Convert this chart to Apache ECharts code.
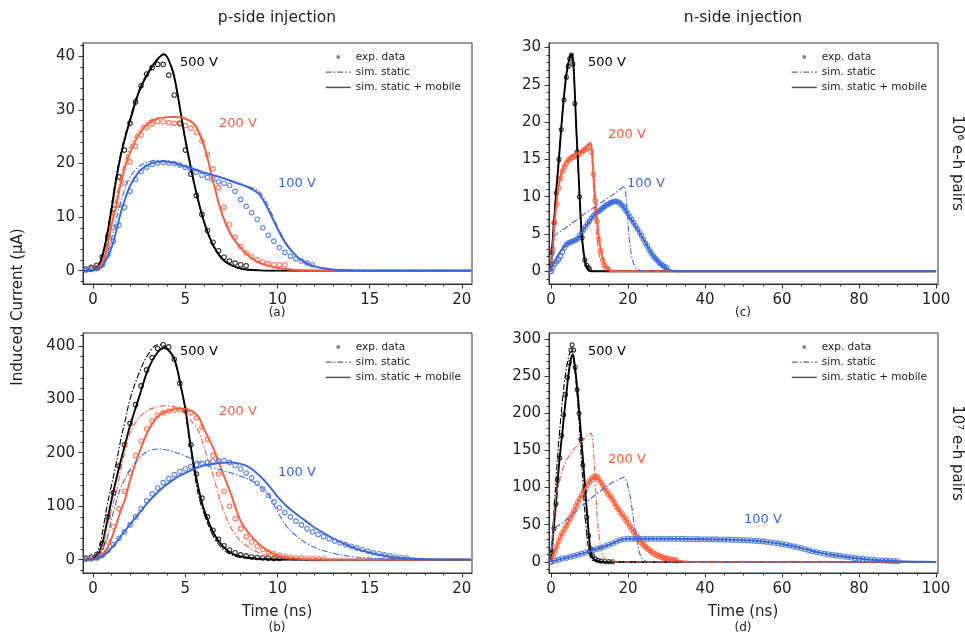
<!DOCTYPE html>
<html>
<head>
<meta charset="utf-8">
<script src="https://cdn.jsdelivr.net/npm/echarts@6/dist/echarts.min.js"></script>
<style>
  html, body { margin: 0; padding: 0; background: #fff; }
  #chart { width: 965px; height: 633px; }
</style>
</head>
<body>
<div id="chart"></div>
<script>
// tick labels
var tickTimeP = [0, 5, 10, 15, 20];
var tickTimeN = [0, 20, 40, 60, 80, 100];
var tickCurA = [0, 10, 20, 30, 40];
var tickCurB = [0, 100, 200, 300, 400];
var tickCurC = [0, 5, 10, 15, 20, 25, 30];
var tickCurD = [0, 50, 100, 150, 200, 250, 300];

// ---- (a) p-side, 10^6 e-h pairs ----
var tA = [-0.5,0,0.25,0.5,0.75,1,1.25,1.5,1.75,2,2.5,3,3.5,3.85,4.25,4.5,4.75,5,5.5,6,6.5,7,7.5,8,8.5,9,9.5,10,10.5,11,11.5,12,13,14,15,20.5];
var a500Mobile = [0,0.1,0.6,2.7,6.5,11.5,17,21.5,25,28,33.5,37,39.5,40.4,38,34.5,29.5,24.5,16,9.3,4.8,2.2,1,0.4,0.15,0.05,0,0,0,0,0,0,0,0,0,0];
var a500Static = [0,0.1,0.7,3,7,12.2,17.6,22,25.5,28.5,33.8,37.2,39.6,40.3,37.8,34.2,29.2,24.2,15.8,9.2,4.7,2.1,0.9,0.35,0.1,0.03,0,0,0,0,0,0,0,0,0,0];
var a200Mobile = [0,0.1,0.4,1.5,4.2,8.5,12,16.3,19.5,22,25.5,27.5,28.4,28.6,28.7,28.7,28.6,28.4,27.3,23.5,16.8,10.5,6.6,4.3,2.6,1.5,0.9,0.5,0.25,0.12,0.05,0,0,0,0,0];
var a200Static = [0,0.1,0.5,2,5,9.5,13.5,17.5,20.5,23,26.2,27.9,28.5,28.6,28.6,28.6,28.5,28.3,27.1,23.3,16.7,10.4,6.5,4.2,2.5,1.5,0.9,0.5,0.25,0.12,0.05,0,0,0,0,0];
var a100Mobile = [0,0.05,0.2,0.8,2.3,4.3,7.3,10.8,13.5,15.8,18.5,19.8,20.3,20.4,20.2,20,19.7,19.4,18.9,18.3,17.8,17.3,16.7,16.1,15.4,14.3,11.4,7.8,4.8,2.8,1.5,0.8,0.2,0.05,0,0];
var a100Static = [0,0.05,0.3,1,3,6,9.5,12.8,15.5,17.5,19.5,20.3,20.6,20.5,20.3,20.1,19.8,19.5,19,18.4,17.9,17.4,16.8,16.2,15.6,14.8,12,8.2,5,2.9,1.6,0.8,0.2,0.05,0,0];

// measured points, p-side (shared time base for a and b)
var expTab = [-0.4,-0.1,0.2,0.5,0.8,1.1,1.4,1.7,2,2.3,2.6,2.9,3.2,3.5,3.8,4.1,4.4,4.7,5,5.3,5.6,5.9,6.2,6.5,6.8,7.1,7.4,7.7,8,8.3,8.6,8.9,9.2,9.5,9.8,10.1,10.4,10.7,11,11.3,11.6,11.9,12.2,12.5,12.8,13.1,13.4,13.7,14,14.3,14.6,14.9,15.2,15.5,15.8,16.1,16.4,16.7,17];
var a500Exp = [0.3,0.6,1,2.6,6.3,11.5,17.5,22.5,27.5,31.5,34.5,36.7,37.9,38.5,38.5,36.5,32.8,27.5,22.5,18,14,10.5,7.5,5.3,3.7,2.5,1.8,1.4,1.1,0.9];
var a200Exp = [0.2,0.3,0.6,1.8,4.5,8,12.2,16.3,20.3,23.2,25.3,26.7,27.4,27.8,27.8,27.6,27.5,27.4,27.1,26.6,25.8,24.2,21.7,19,15.5,11.8,8.6,6.2,4.5,3.3,2.6,2,1.6,1.3,1.1,1.1,1.1];
var a100Exp = [0.1,0.2,0.4,1.1,3,5.5,8.5,11.8,14.8,17,18.5,19.3,19.8,20.1,20.2,20.1,20,19.7,19.3,18.9,18.4,17.8,17.4,17,16.6,16.3,15.9,14.8,13.3,12,10.8,9.6,8,6.6,5.5,4.3,3.4,2.7,2.2,1.8,1.4,1.1];

// ---- (b) p-side, 10^7 e-h pairs ----
var tB = [-0.5,0,0.25,0.5,0.75,1,1.25,1.5,1.75,2,2.5,3,3.5,3.85,4.25,4.5,4.75,5,5.25,5.5,5.75,6,6.5,7,7.5,8,8.5,9,9.5,10,10.5,11,11.5,12,13,14,15,16,17,18,20.5];
var b500Mobile = [0,2,8,30,70,112,150,185,218,250,305,358,388,396,385,365,325,283,222,170,128,95,52,26,12,6,3,1.5,0.6,0.2,0,0,0,0,0,0,0,0,0,0,0];
var b500Static = [0,3,15,50,100,140,180,225,262,300,350,385,402,400,385,362,325,278,215,160,115,88,45,21,9,4,2,0.8,0.3,0,0,0,0,0,0,0,0,0,0,0,0];
var b200Mobile = [0,1,3,9,20,40,65,92,115,148,200,242,268,276,280,281.5,282,282,279,275,265,245,210,165,120,72,47,29,16,8,4,2,1,0.5,0,0,0,0,0,0,0];
var b200Static = [0,2,8,25,60,95,125,170,205,237,266,280,286,288,287,285,280,272,262,252,238,212,158,98,58,35,22,13,7,4,2,1,0.5,0,0,0,0,0,0,0,0];
var b100Mobile = [0,0.5,2,6,13,22,32,44,55,66,87,108,126,137,147,153,158,162,166,170,173,176,179,181,182,179,172,158,140,118,100,86,73,60,40,24,13,6,2.5,0.8,0];
var b100Static = [0,1,5,18,40,75,108,135,152,168,190,203,207,206,203,200,197,194,190,186,182,178,172,167,162,156,149,139,122,90,62,45,32,23,12,6,3,1.5,0.5,0,0];
var b500Exp = [3,5,10,30,80,125,175,215,255,290,325,355,378,395,402,398,375,330,280,215,160,115,80,55,38,26,18,13,9,7,5,4,3,2.5,2,2];
var b200Exp = [2,3,5,15,33,62,95,128,162,195,222,245,260,270,275,278,280,281,280,275,265,248,225,195,160,128,100,77,58,43,33,25,19,14,11,8,6,4.5,3.5,3,2.5,2,2,2];
var b100Exp = [1,1.5,3,8,17,28,40,52,65,80,95,110,123,134,144,152,159,165,170,174,177,180,182,184,185,185,182,176,170,162,153,143,132,120,108,97,88,80,72,65,58,52,47,43,39,35,31,28,25,22,19,16,13,11,9,7,5,4,3];

// ---- (c) n-side, 10^6 e-h pairs ----
var c500T = [0,0.5,1,1.5,2,2.5,3,3.5,4,4.5,5,5.4,5.8,6.2,6.6,7,7.5,8,8.5,9,9.5,10,11,100];
var c500Mobile = [0,4.5,8,11.5,14.5,18,21.2,24,26.3,27.8,28.8,29.1,28,24,19,15,9.5,5,2.5,1,0.4,0.1,0,0];
var c500Static = [0,4.8,8.3,11.8,14.8,18.2,21.4,24.2,26.5,28,28.9,29.1,27.8,23.6,18.5,14.5,9,4.6,2.2,0.9,0.3,0.1,0,0];
var c500ExpT = [0.3,0.8,1.4,2.1,2.7,3.4,4,4.5,4.9,5.3,5.7,6.2,6.8,7.4,8.1,8.8,9.3,9.7,10];
var c500Exp = [2.5,6.5,10.5,15,19,23,26,27.5,28.5,29,27.8,22.5,16,10,4.5,1.5,0.8,0.5,0.3];
var c200T = [0,0.5,1,1.5,2,3,4,5,6,7,8,9,9.7,10.3,10.7,11.2,11.6,12,12.5,13,13.5,14,14.6,15.5,16,100];
var c200Mobile = [0,3,6.8,9.3,11.5,13.5,14.6,15.2,15.5,15.8,16,16.5,16.9,17.1,15.8,11.8,9.1,6.9,4.2,2.8,1.6,0.8,0.4,0.1,0,0];
var c200Static = [0,3.5,7.2,9.8,11.8,13.7,14.7,15.3,15.6,15.9,16.2,16.7,17.1,17.3,14.5,9.5,6.5,4.3,2.3,1.2,0.6,0.3,0.1,0,0,0];
var c200ExpT = [0,0.5,1,1.5,2,2.5,3,3.5,4,4.5,5,5.5,6,6.5,7,7.5,8,8.5,9,9.5,10,10.5,11,11.5,12,12.5,13,13.5,14,14.5,15];
var c200Exp = [0,3,6.5,9,11.2,12.5,13.4,14,14.5,14.9,15.1,15.3,15.4,15.5,15.6,15.8,16,16.2,16.4,16.6,16.7,16,13,9.5,6.7,4.3,2.7,1.5,0.8,0.4,0.2];
var c100T = [0,0.5,1,2,3,4,5,6,7,8,9,10,11,12,13,14,15,16,17,18,19,20,21,22,23,24,25,26,27,28,29,30,31,32,33,100];
var c100Mobile = [0,0.8,1.4,2.3,3,3.6,3.9,4.1,4.4,5.2,6,6.7,7.4,7.9,8.3,8.7,9,9.3,9.4,9.2,8.5,7.6,6.8,6,5.2,4.3,3.4,2.5,1.8,1.2,0.7,0.35,0.15,0.05,0,0];
var c100StaticT = [0,0.3,0.7,1,3,5,7,9,11,13,15,17,18,19,19.4,19.8,20.2,20.6,21,21.5,22,23,24,25,100];
var c100Static = [0,2.5,4.2,4.8,5.5,6.3,7,7.8,8.5,9.2,9.9,10.6,11,11.4,10.5,8,5.2,3.2,1.9,1,0.5,0.15,0.05,0,0];
var c100ExpT = [0,0.5,1,1.5,2,2.5,3,3.5,4,4.5,5,5.5,6,6.5,7,7.5,8,8.5,9,9.5,10,10.5,11,11.5,12,12.5,13,13.5,14,14.5,15,15.5,16,16.5,17,17.5,18,18.5,19,19.5,20,20.5,21,21.5,22,22.5,23,23.5,24,24.5,25,25.5,26,26.5,27,27.5,28,28.5,29,29.5,30];
var c100Exp = [0,0.5,1,1.3,1.6,2,2.6,3.2,3.6,3.8,3.9,4,4.1,4.2,4.4,4.8,5.2,5.6,6,6.4,6.7,7.1,7.4,7.7,7.9,8.1,8.3,8.5,8.7,8.9,9,9.2,9.3,9.4,9.4,9.3,9.1,8.8,8.5,8.1,7.7,7.3,6.9,6.5,6.1,5.7,5.2,4.8,4.3,3.8,3.4,2.9,2.5,2.1,1.8,1.5,1.2,1,0.8,0.6,0.5];

// ---- (d) n-side, 10^7 e-h pairs ----
var d500T = [0,0.5,1,1.5,2,2.5,3,3.5,4,4.5,5,5.4,5.7,6,6.4,6.8,7.1,7.4,7.7,8,8.4,8.7,9,9.4,9.7,10,10.3,10.8,11.6,12.5,13.3,100];
var d500Mobile = [0,32,62,90,125,152,176,202,226,250,268,277,279,272,255,235,218,198,178,158,132,112,90,64,45,28,15,6,2,0.5,0,0];
var d500Static = [0,45,85,125,160,190,218,242,260,274,282,283,278,268,250,225,205,180,155,130,100,75,55,32,20,11,6,2,0.5,0,0,0];
var d500ExpT = [0.3,0.8,1.3,1.8,2.3,2.8,3.3,3.8,4.3,4.8,5.2,5.5,5.9,6.3,6.8,7.3,7.8,8.3,8.8,9.3,9.8,10.3,10.8,11.5,12.2,13,14,15,16];
var d500Exp = [15,45,78,110,140,170,198,225,248,268,285,292,285,262,232,200,165,130,95,60,35,18,8,4,2,1,0.5,0.3,0.2];
var d200T = [0,1,2,3,4,5,6,7,8,9,10,11,11.5,12,13,14,15,16,17,18,19,20,21,22,23,24,25,26,27,28,29,30,31,32,33,34,35,37,100];
var d200Mobile = [0,14,28,39,49,59,69,80,90,100,108,113.5,115,114,107,99,91,84,74,67,60,52,44,36,30,23,18,14,10.5,8,6,4.5,3.2,2.2,1.4,0.8,0.4,0,0];
var d200StaticT = [0,0.3,0.6,1,1.5,2,3,4,5,6,7,8,9,10,10.4,10.8,11.2,11.6,12,12.5,13,13.5,14,15,16,100];
var d200Static = [0,25,50,72,92,106,124,136,145,152,157,162,167,172,173,165,138,98,62,35,18,9,4,1,0,0];
var d200ExpT = [0,0.5,1,1.5,2,2.5,3,3.5,4,4.5,5,5.5,6,6.5,7,7.5,8,8.5,9,9.5,10,10.5,11,11.5,12,12.5,13,13.5,14,14.5,15,15.5,16,16.5,17,17.5,18,18.5,19,19.5,20,20.5,21,21.5,22,22.5,23,23.5,24,24.5,25,25.5,26,26.5,27,27.5,28,28.5,29,29.5,30,30.5,31,31.5,32,32.5];
var d200Exp = [0,7,14,21,28,34,39,44,49,54,59,64,69,75,80,85,90,95,100,104,108,111,114,115,114,111,107,103,99,95,91,88,84,79,74,71,67,64,60,56,52,48,44,40,36,33,30,26,23,20.5,18,16,14,12,10.5,9,8,7,6,5,4.5,4,3.2,2.7,2.2,2];
var d100T = [0,2,4,6,8,10,12,14,16,18,19,20,25,30,35,40,45,50,55,60,65,70,75,80,85,90,95,100];
var d100Mobile = [0,3,5.5,8,11,14,17.5,21,25,29.5,30.5,31,31,31,30.8,30.5,30,29.3,27.5,24,18.5,12,8,4.5,2.2,0.8,0.2,0];
var d100StaticT = [0,0.3,0.6,1,2,4,6,8,10,12,14,16,18,19,19.5,20,20.5,21,21.5,22,22.5,23,23.5,24,25,26,100];
var d100Static = [0,20,38,45,49,57,66,75,84,92,100,107,112,114,110,102,90,74,55,40,25,12,6,2.5,0.5,0,0];
var d100ExpT = [0,1,2,3,4,5,6,7,8,9,10,11,12,13,14,15,16,17,18,19,20,21,22,23,24,25,26,27,28,29,30,31,32,33,34,35,36,37,38,39,40,41,42,43,44,45,46,47,48,49,50,51,52,53,54,55,56,57,58,59,60,61,62,63,64,65,66,67,68,69,70,71,72,73,74,75,76,77,78,79,80,81,82,83,84,85,86,87,88,89,90];
var d100Exp = [0,1.5,3,4.3,5.5,6.8,8,9.5,11,12.5,14,15.8,17.5,19.2,21,23,25,27.3,29.5,30.5,31,31,31,31,31,31,31,31,31,31,31,31,31,30.9,30.9,30.8,30.7,30.7,30.6,30.5,30.5,30.4,30.3,30.2,30.1,30,29.9,29.7,29.6,29.4,29.3,29,28.7,28.3,27.9,27.5,27,26.4,25.7,24.9,24,23,21.9,20.8,19.6,18.5,17,15.5,14.2,13,12,11,10.2,9.4,8.7,8,7.3,6.6,5.9,5.2,4.5,4,3.6,3.1,2.7,2.2,1.9,1.6,1.3,1,0.8];

var BLACK = '#000000', ORANGE = '#fc5a38', BLUE = '#3667db';
var FONT = 'DejaVu Sans';

var chart = echarts.init(document.getElementById('chart'));

function pts(ts, vs) {
    return vs.map(function (v, i) { return [ts[i], v]; });
}

var series = [];
// grid order: 0 = (a), 1 = (c), 2 = (b), 3 = (d)
function addSet(g, color, expT, expI, statT, statI, mobT, mobI, dot) {
    series.push({
        type: 'scatter', xAxisIndex: g, yAxisIndex: g, silent: true,
        symbol: 'circle', symbolSize: dot,
        itemStyle: {color: 'rgba(0,0,0,0)', borderColor: color, borderWidth: 1.1},
        data: pts(expT, expI)
    });
    series.push({
        type: 'line', xAxisIndex: g, yAxisIndex: g, silent: true,
        showSymbol: false, symbol: 'none', smooth: 0.35,
        lineStyle: {color: color, width: 1.1, type: [6, 2, 1.5, 2]},
        data: pts(statT, statI)
    });
    series.push({
        type: 'line', xAxisIndex: g, yAxisIndex: g, silent: true,
        showSymbol: false, symbol: 'none', smooth: 0.35,
        lineStyle: {color: color, width: 1.9},
        data: pts(mobT, mobI)
    });
}

addSet(0, BLACK, expTab, a500Exp, tA, a500Static, tA, a500Mobile, 4.5);
addSet(0, ORANGE, expTab, a200Exp, tA, a200Static, tA, a200Mobile, 4.5);
addSet(0, BLUE, expTab, a100Exp, tA, a100Static, tA, a100Mobile, 4.5);

addSet(2, BLACK, expTab, b500Exp, tB, b500Static, tB, b500Mobile, 4.5);
addSet(2, ORANGE, expTab, b200Exp, tB, b200Static, tB, b200Mobile, 4.5);
addSet(2, BLUE, expTab, b100Exp, tB, b100Static, tB, b100Mobile, 4.5);

addSet(1, BLACK, c500ExpT, c500Exp, c500T, c500Static, c500T, c500Mobile, 4);
addSet(1, ORANGE, c200ExpT, c200Exp, c200T, c200Static, c200T, c200Mobile, 4.5);
addSet(1, BLUE, c100ExpT, c100Exp, c100StaticT, c100Static, c100T, c100Mobile, 4.5);

addSet(3, BLACK, d500ExpT, d500Exp, d500T, d500Static, d500T, d500Mobile, 4);
addSet(3, ORANGE, d200ExpT, d200Exp, d200StaticT, d200Static, d200T, d200Mobile, 5);
addSet(3, BLUE, d100ExpT, d100Exp, d100StaticT, d100Static, d100T, d100Mobile, 5);

// empty series only for the legend keys
series.push({name: 'exp. data', type: 'scatter', xAxisIndex: 0, yAxisIndex: 0, data: [],
    itemStyle: {color: '#666'}});
series.push({name: 'sim. static', type: 'line', xAxisIndex: 0, yAxisIndex: 0, data: [],
    showSymbol: false, itemStyle: {color: '#666'},
    lineStyle: {color: '#666', width: 1.2, type: [6, 2, 1.5, 2]}});
series.push({name: 'sim. static + mobile', type: 'line', xAxisIndex: 0, yAxisIndex: 0, data: [],
    showSymbol: false, itemStyle: {color: '#555'}, lineStyle: {color: '#555', width: 1.6}});

function legendAt(left, top) {
    return {
        orient: 'vertical', left: left, top: top, padding: 0,
        itemWidth: 25, itemHeight: 4, itemGap: 3.2,
        selectedMode: false,
        textStyle: {fontSize: 10.5, fontFamily: FONT, color: '#222', lineHeight: 12},
        lineStyle: {width: 1.5},
        data: [
            {name: 'exp. data', icon: 'circle'},
            {name: 'sim. static', itemStyle: {opacity: 0}, lineStyle: {width: 1.2, type: [6, 2, 1.5, 2]}},
            {name: 'sim. static + mobile', itemStyle: {opacity: 0}}
        ]
    };
}

function axis(g, min, max, ticks, minorSplit, isY) {
    return {
        type: 'value', gridIndex: g, min: min, max: max,
        position: isY ? 'left' : 'bottom',
        axisLine: {show: true, onZero: false, lineStyle: {color: '#333', width: 1}},
        axisTick: {show: true, inside: false, length: 4.5, customValues: ticks,
            lineStyle: {color: '#333', width: 1}},
        minorTick: {show: true, splitNumber: minorSplit, length: 2.5,
            lineStyle: {color: '#333', width: 1}},
        axisLabel: {customValues: ticks, color: '#222', fontSize: 15, fontFamily: FONT,
            margin: isY ? 8 : 9},
        splitLine: {show: false},
        minorSplitLine: {show: false}
    };
}

function txt(x, y, s, size, color, align, rot) {
    return {
        type: 'text', x: x, y: y, rotation: rot || 0, silent: true,
        style: {text: s, fill: color, font: size + 'px "' + FONT + '"',
            align: align || 'center', verticalAlign: 'middle'}
    };
}

var option = {
    animation: false,
    backgroundColor: '#ffffff',
    grid: [
        {left: 83, top: 43, width: 389, height: 241, show: true, borderColor: '#333', borderWidth: 1},
        {left: 549, top: 43, width: 389, height: 241, show: true, borderColor: '#333', borderWidth: 1},
        {left: 83, top: 333, width: 389, height: 240, show: true, borderColor: '#333', borderWidth: 1},
        {left: 549, top: 333, width: 389, height: 240, show: true, borderColor: '#333', borderWidth: 1}
    ],
    xAxis: [
        axis(0, -0.55, 20.55, tickTimeP, 5, false),
        axis(1, -0.5, 100.5, tickTimeN, 4, false),
        axis(2, -0.55, 20.55, tickTimeP, 5, false),
        axis(3, -0.5, 100.5, tickTimeN, 4, false)
    ],
    yAxis: [
        axis(0, -2.5, 42.5, tickCurA, 5, true),
        axis(1, -1.7, 30.6, tickCurC, 5, true),
        axis(2, -25, 424, tickCurB, 5, true),
        axis(3, -15, 308, tickCurD, 5, true)
    ],
    legend: [legendAt(325, 51), legendAt(791, 51), legendAt(325, 341), legendAt(791, 341)],
    series: series,
    graphic: [
        txt(277, 18, 'p-side injection', 15.5, '#222'),
        txt(743, 18, 'n-side injection', 15.5, '#222'),
        txt(18, 307, 'Induced Current (μA)', 15, '#222', 'center', Math.PI / 2),
        txt(957, 163, '10⁶ e-h pairs', 15, '#222', 'center', -Math.PI / 2),
        txt(957, 453, '10⁷ e-h pairs', 15, '#222', 'center', -Math.PI / 2),
        txt(277, 313, '(a)', 12, '#222'),
        txt(743, 313, '(c)', 12, '#222'),
        txt(277, 612, 'Time (ns)', 15, '#222'),
        txt(743, 612, 'Time (ns)', 15, '#222'),
        txt(277, 628, '(b)', 12, '#222'),
        txt(743, 628, '(d)', 12, '#222'),
        txt(180, 63, '500 V', 13, BLACK, 'left'),
        txt(219, 124, '200 V', 13, ORANGE, 'left'),
        txt(278, 184, '100 V', 13, BLUE, 'left'),
        txt(588, 63, '500 V', 13, BLACK, 'left'),
        txt(608, 135, '200 V', 13, ORANGE, 'left'),
        txt(627, 184, '100 V', 13, BLUE, 'left'),
        txt(180, 352, '500 V', 13, BLACK, 'left'),
        txt(219, 412, '200 V', 13, ORANGE, 'left'),
        txt(278, 473, '100 V', 13, BLUE, 'left'),
        txt(588, 352, '500 V', 13, BLACK, 'left'),
        txt(608, 460, '200 V', 13, ORANGE, 'left'),
        txt(744, 520, '100 V', 13, BLUE, 'left')
    ]
};

chart.setOption(option);
</script>
</body>
</html>
